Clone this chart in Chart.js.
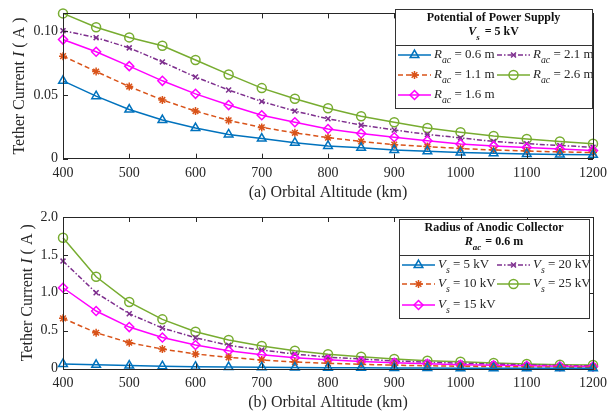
<!DOCTYPE html>
<html>
<head>
<meta charset="utf-8">
<script src="https://cdn.jsdelivr.net/npm/chart.js@4.4.1/dist/chart.umd.min.js"></script>
<style>
  html, body { margin: 0; padding: 0; background: #fff; }
  #wrap { position: relative; width: 610px; height: 419px; }
  #chartA { position: absolute; left: 0; top: 0; }
  #chartB { position: absolute; left: 0; top: 200px; }
</style>
</head>
<body>
<div id="wrap">
  <canvas id="chartA" width="610" height="200"></canvas>
  <canvas id="chartB" width="610" height="219"></canvas>
</div>
<script>
// ---- data ----
const altitudes = [400, 450, 500, 550, 600, 650, 700, 750, 800, 850, 900, 950, 1000, 1050, 1100, 1150, 1200];

// (a) Vs = 5 kV, different anode radius
const rac06 = [0.0610, 0.0490, 0.0385, 0.0303, 0.0240, 0.0190, 0.0158, 0.0125, 0.0100, 0.0085, 0.0068, 0.0058, 0.0048, 0.0042, 0.0037, 0.0033, 0.0030];
const rac11 = [0.0803, 0.0683, 0.0565, 0.0460, 0.0373, 0.0300, 0.0245, 0.0203, 0.0165, 0.0135, 0.0110, 0.0095, 0.0080, 0.0068, 0.0060, 0.0053, 0.0048];
const rac16 = [0.0933, 0.0838, 0.0725, 0.0610, 0.0508, 0.0420, 0.0340, 0.0285, 0.0233, 0.0198, 0.0168, 0.0140, 0.0115, 0.0100, 0.0088, 0.0075, 0.0065];
const rac21 = [0.1003, 0.0948, 0.0868, 0.0758, 0.0640, 0.0538, 0.0448, 0.0373, 0.0313, 0.0263, 0.0225, 0.0190, 0.0163, 0.0135, 0.0118, 0.0103, 0.0090];
const rac26 = [0.1138, 0.1030, 0.0950, 0.0885, 0.0773, 0.0660, 0.0553, 0.0470, 0.0395, 0.0333, 0.0285, 0.0240, 0.0208, 0.0178, 0.0155, 0.0135, 0.0118];

// (b) Rac = 0.6 m, different supply potential
const vs5 = [0.0610, 0.0490, 0.0385, 0.0303, 0.0240, 0.0190, 0.0158, 0.0125, 0.0100, 0.0085, 0.0068, 0.0058, 0.0048, 0.0042, 0.0037, 0.0033, 0.0030];
const vs10 = [0.662, 0.472, 0.341, 0.257, 0.191, 0.148, 0.112, 0.086, 0.068, 0.055, 0.044, 0.036, 0.030, 0.025, 0.021, 0.018, 0.015];
const vs15 = [1.066, 0.759, 0.547, 0.410, 0.310, 0.235, 0.182, 0.143, 0.115, 0.093, 0.075, 0.062, 0.050, 0.042, 0.035, 0.030, 0.026];
const vs20 = [1.418, 1.000, 0.723, 0.534, 0.406, 0.306, 0.244, 0.190, 0.150, 0.125, 0.100, 0.083, 0.070, 0.058, 0.048, 0.040, 0.035];
const vs25 = [1.726, 1.211, 0.877, 0.649, 0.486, 0.376, 0.297, 0.235, 0.187, 0.156, 0.125, 0.103, 0.090, 0.073, 0.060, 0.050, 0.046];

// ticks
const xTicks = [400, 500, 600, 700, 800, 900, 1000, 1100, 1200];
const yTicksA = [0, 0.05, 0.10];
const yLabelsA = ['0', '0.05', '0.10'];
const yTicksB = [0, 0.5, 1.0, 1.5, 2.0];
const yLabelsB = ['0', '0.5', '1.0', '1.5', '2.0'];

const labelsA = ['0.6', '1.1', '1.6', '2.1', '2.6'];
const labelsB = ['5', '10', '15', '20', '25'];

// ---- styles ----
const FONT = '"Liberation Serif", "Times New Roman", serif';
const AXIS = '#262626';
const styles = [
  { color: '#0072BD', point: 'triangle', radius: 5, dash: [] },
  { color: '#D95319', point: 'star', radius: 4, dash: [5, 3] },
  { color: '#FF00FF', point: 'rectRot', radius: 4.5, dash: [] },
  { color: '#7E2F8E', point: 'crossRot', radius: 3.5, dash: [5, 2, 1.5, 2] },
  { color: '#77AC30', point: 'circle', radius: 4.5, dash: [] }
];

function mkDatasets(series) {
  return series.map((s, i) => ({
    data: altitudes.map((x, j) => ({ x: x, y: s[j] })),
    borderColor: styles[i].color,
    backgroundColor: 'rgba(0,0,0,0)',
    borderWidth: 1.5,
    borderDash: styles[i].dash,
    pointStyle: styles[i].point,
    pointRadius: styles[i].radius,
    pointBorderWidth: 1.5,
    pointBorderColor: styles[i].color,
    pointBackgroundColor: 'rgba(0,0,0,0)',
    tension: 0,
    clip: false
  }));
}

// draw a run of text pieces (italic / subscript / bold)
function richWidth(ctx, parts, size, bold) {
  let w = 0;
  parts.forEach(p => {
    const fs = p.sub ? size * 0.75 : size;
    ctx.font = (p.it ? 'italic ' : '') + (bold ? 'bold ' : '') + fs + 'px ' + FONT;
    w += ctx.measureText(p.t).width + (p.gap || 0);
  });
  return w;
}
function drawRich(ctx, parts, x, y, size, bold) {
  ctx.textBaseline = 'middle';
  ctx.textAlign = 'left';
  parts.forEach(p => {
    const fs = p.sub ? size * 0.75 : size;
    ctx.font = (p.it ? 'italic ' : '') + (bold ? 'bold ' : '') + fs + 'px ' + FONT;
    ctx.fillText(p.t, x, p.sub ? y + size * 0.45 : y);
    x += ctx.measureText(p.t).width + (p.gap || 0);
  });
}

const framePlugin = {
  id: 'frame',
  afterDraw(chart, args, o) {
    const ctx = chart.ctx;
    const a = chart.chartArea;
    const xs = chart.scales.x, ys = chart.scales.y;
    ctx.save();
    ctx.strokeStyle = AXIS;
    ctx.lineWidth = 1;
    ctx.strokeRect(Math.round(a.left) + 0.5, Math.round(a.top) + 0.5, Math.round(a.right - a.left), Math.round(a.bottom - a.top));
    ctx.beginPath();
    xs.ticks.forEach(t => {
      const px = Math.round(xs.getPixelForValue(t.value)) + 0.5;
      ctx.moveTo(px, a.bottom); ctx.lineTo(px, a.bottom - 5);
      ctx.moveTo(px, a.top); ctx.lineTo(px, a.top + 5);
    });
    ys.ticks.forEach(t => {
      const py = Math.round(ys.getPixelForValue(t.value)) + 0.5;
      ctx.moveTo(a.left, py); ctx.lineTo(a.left + 5, py);
      ctx.moveTo(a.right, py); ctx.lineTo(a.right - 5, py);
    });
    ctx.stroke();

    // x tick labels
    ctx.fillStyle = AXIS;
    ctx.font = '14px ' + FONT;
    ctx.textAlign = 'center';
    ctx.textBaseline = 'middle';
    xTicks.forEach(v => ctx.fillText(String(v), xs.getPixelForValue(v), a.bottom + 14.5));

    // axis titles
    ctx.font = '16px ' + FONT;
    ctx.fillText(o.xTitle, (a.left + a.right) / 2, o.xTitleY);
    ctx.save();
    ctx.translate(o.yTitleX, (a.top + a.bottom) / 2);
    ctx.rotate(-Math.PI / 2);
    const yParts = [{ t: 'Tether Current ' }, { t: 'I', it: true }, { t: ' ( A )' }];
    drawRich(ctx, yParts, -richWidth(ctx, yParts, 16) / 2, 0, 16);
    ctx.restore();

    // legend box
    const L = o.legend;
    ctx.fillStyle = '#fff';
    ctx.fillRect(L.x1, L.y1, L.x2 - L.x1, L.y2 - L.y1);
    ctx.strokeStyle = '#333';
    ctx.strokeRect(L.x1 + 0.5, L.y1 + 0.5, L.x2 - L.x1, L.y2 - L.y1);
    ctx.beginPath();
    ctx.moveTo(L.x1, L.div + 0.5); ctx.lineTo(L.x2, L.div + 0.5);
    ctx.stroke();
    ctx.fillStyle = '#111';
    const cx = (L.x1 + L.x2) / 2;
    L.title.forEach((parts, k) => {
      const w = richWidth(ctx, parts, 12, true);
      drawRich(ctx, parts, cx - w / 2, L.titleY[k], 12, true);
    });
    L.entries.forEach((parts, i) => {
      const col = i < 3 ? 0 : 1;
      const row = i < 3 ? i : i - 3;
      const x0 = L.cols[col], x1 = x0 + 33, y = L.rows[row];
      const st = styles[i];
      ctx.save();
      ctx.strokeStyle = st.color;
      ctx.lineWidth = 1.5;
      ctx.setLineDash(st.dash);
      ctx.beginPath(); ctx.moveTo(x0, y); ctx.lineTo(x1, y); ctx.stroke();
      ctx.setLineDash([]);
      ctx.fillStyle = 'rgba(0,0,0,0)';
      Chart.helpers.drawPoint(ctx, { pointStyle: st.point, radius: st.radius, borderWidth: 1.5, rotation: 0 }, (x0 + x1) / 2, y);
      ctx.restore();
      ctx.fillStyle = AXIS;
      drawRich(ctx, parts, x1 + 3, y, 13);
    });
    ctx.restore();
  }
};

function scalesFor(yMax, yTicks, yLabels, xH) {
  return {
    x: {
      type: 'linear', min: 400, max: 1200,
      grid: { display: false, drawTicks: false }, border: { display: false },
      afterBuildTicks: s => { s.ticks = xTicks.map(v => ({ value: v })); },
      afterFit: s => { s.height = xH; },
      ticks: { display: false }
    },
    y: {
      type: 'linear', min: 0, max: yMax,
      grid: { display: false, drawTicks: false }, border: { display: false },
      afterBuildTicks: s => { s.ticks = yTicks.map(v => ({ value: v })); },
      afterFit: s => { s.width = 63; },
      ticks: { color: AXIS, font: { family: FONT, size: 14 }, padding: 5, callback: (v, i) => yLabels[i] }
    }
  };
}

const commonOpts = {
  responsive: false,
  animation: false,
  events: [],
  plugins: { legend: { display: false }, tooltip: { enabled: false } }
};

new Chart(document.getElementById('chartA'), {
  type: 'line',
  data: { datasets: mkDatasets([rac06, rac11, rac16, rac21, rac26]) },
  options: {
    ...commonOpts,
    layout: { padding: { top: 7, right: 17, left: 0, bottom: 0 } },
    scales: scalesFor(0.1138, yTicksA, yLabelsA, 41.3),
    plugins: {
      ...commonOpts.plugins,
      frame: {
        xTitle: '(a) Orbital Altitude (km)', xTitleY: 193, yTitleX: 20,
        legend: {
          x1: 395, y1: 9, x2: 592, y2: 108, div: 45,
          titleY: [18, 32],
          title: [
            [{ t: 'Potential of Power Supply' }],
            [{ t: 'V', it: true }, { t: 's', it: true, sub: true, gap: 2 }, { t: ' = 5 kV' }]
          ],
          cols: [398, 497], rows: [55, 75, 95],
          entries: labelsA.map(v => [{ t: 'R', it: true }, { t: 'ac', it: true, sub: true }, { t: ' = ' + v + ' m' }])
        }
      }
    }
  },
  plugins: [framePlugin]
});

new Chart(document.getElementById('chartB'), {
  type: 'line',
  data: { datasets: mkDatasets([vs5, vs10, vs15, vs20, vs25]) },
  options: {
    ...commonOpts,
    layout: { padding: { top: 17, right: 17, left: 0, bottom: 0 } },
    scales: scalesFor(2.0, yTicksB, yLabelsB, 50.5),
    plugins: {
      ...commonOpts.plugins,
      frame: {
        xTitle: '(b) Orbital Altitude (km)', xTitleY: 203, yTitleX: 28,
        legend: {
          x1: 399, y1: 19, x2: 589, y2: 118, div: 55,
          titleY: [28, 42],
          title: [
            [{ t: 'Radius of Anodic Collector' }],
            [{ t: 'R', it: true }, { t: 'ac', it: true, sub: true, gap: 1 }, { t: ' = 0.6 m' }]
          ],
          cols: [402, 497], rows: [65, 84, 105],
          entries: labelsB.map(v => [{ t: 'V', it: true }, { t: 's', it: true, sub: true }, { t: ' = ' + v + ' kV' }])
        }
      }
    }
  },
  plugins: [framePlugin]
});
</script>
</body>
</html>
